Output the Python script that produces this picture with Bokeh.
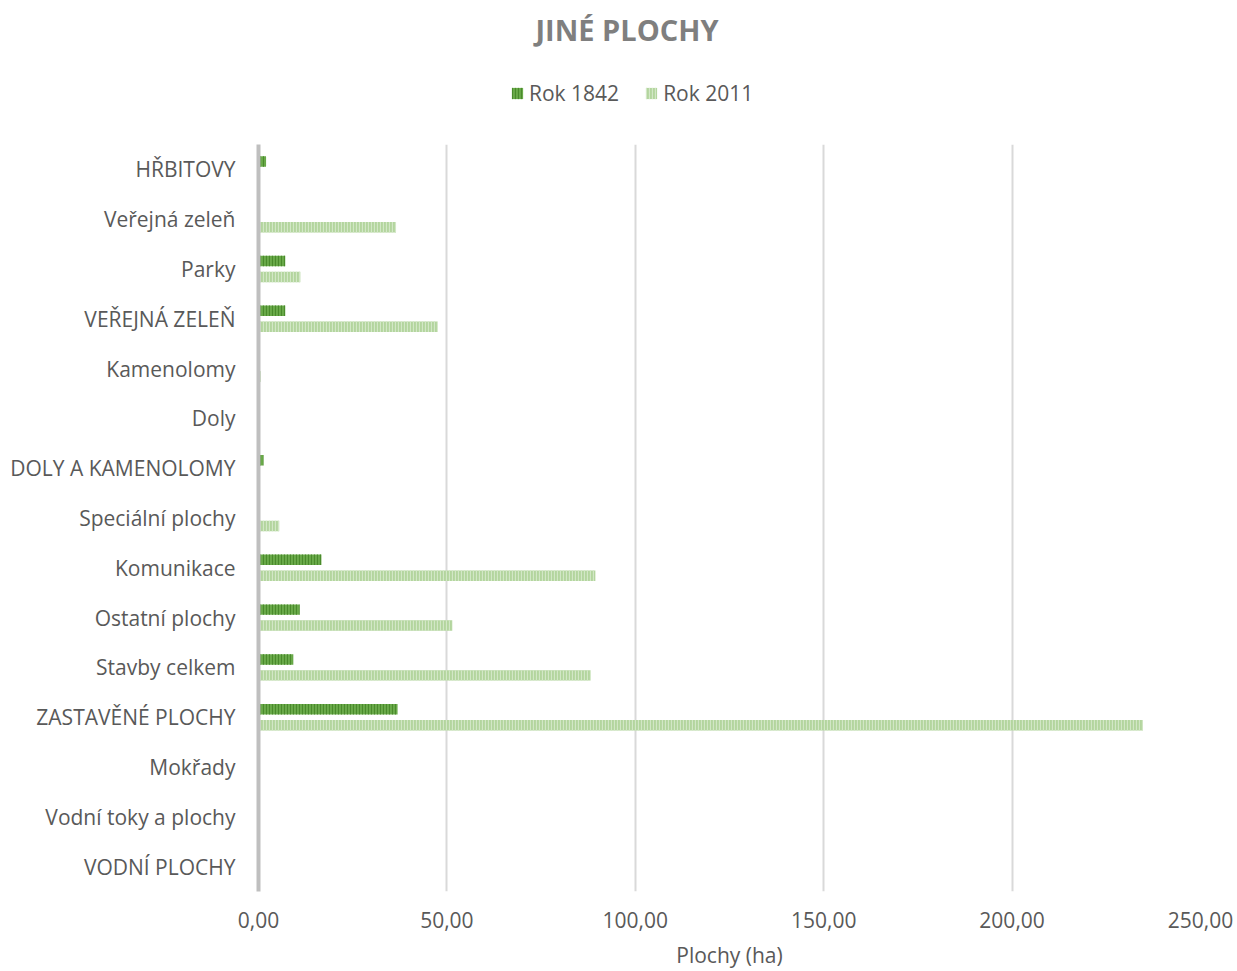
from bokeh.plotting import figure
from bokeh.models import (FactorRange, Range1d, ColumnDataSource, Legend, LegendItem,
                          FixedTicker, CustomJSTickFormatter)
from bokeh.layouts import column
from bokeh.transform import dodge
from bokeh.embed import file_html
from bokeh.resources import INLINE

categories = ["HŘBITOVY", "Veřejná zeleň", "Parky", "VEŘEJNÁ ZELEŇ", "Kamenolomy", "Doly",
              "DOLY A KAMENOLOMY", "Speciální plochy", "Komunikace", "Ostatní plochy",
              "Stavby celkem", "ZASTAVĚNÉ PLOCHY", "Mokřady", "Vodní toky a plochy", "VODNÍ PLOCHY"]
rok_1842 = [2.0, 0.0, 7.1, 7.1, 0.0, 0.0, 1.3, 0.0, 16.7, 10.9, 9.2, 36.9, 0.0, 0.0, 0.0]
rok_2011 = [0.0, 36.5, 11.1, 47.5, 0.6, 0.4, 0.0, 5.5, 89.4, 51.4, 88.1, 234.7, 0.0, 0.0, 0.0]
series_names = ["Rok 1842", "Rok 2011"]
x_ticks = [0, 50, 100, 150, 200, 250]

FONT = "Open Sans"
TXT = "#595959"
S1 = dict(fill_color="#6aaa4a", line_color=None, hatch_pattern="|", hatch_color="#4a8a2c",
          hatch_scale=3, hatch_weight=1.2)
S2 = dict(fill_color="#b3d59e", line_color=None, hatch_pattern="|", hatch_color="#d2e7c6",
          hatch_scale=3, hatch_weight=1.2)

# ---------- header (title + legend) ----------
head = figure(width=1237, height=144, output_backend="svg", toolbar_location=None,
              x_range=Range1d(0, 1), y_range=Range1d(0, 1),
              min_border_left=258, min_border_right=37, min_border_top=48, min_border_bottom=0)
head.axis.visible = False
head.grid.visible = False
head.outline_line_color = None
head.title.text = "JINÉ PLOCHY"
head.title.text_font = FONT
head.title.text_font_size = "29px"
head.title.text_font_style = "bold"
head.title.text_color = "#7f7f7f"
head.title.align = "left"
head.title.offset = 277
head.title.standoff = 0

# off-screen placeholder bars, only used to draw the legend swatches
dummy = ColumnDataSource(dict(y=[-10], r=[1]))
d1 = head.hbar(y="y", right="r", left=0, height=0.1, source=dummy, **S1)
d2 = head.hbar(y="y", right="r", left=0, height=0.1, source=dummy, **S2)
legend = Legend(items=[LegendItem(label=series_names[0], renderers=[d1]),
                       LegendItem(label=series_names[1], renderers=[d2])],
                orientation="horizontal", location=(252, 37),
                label_text_font=FONT, label_text_font_size="21px", label_text_color=TXT,
                glyph_width=14, glyph_height=14, label_standoff=5, spacing=25,
                padding=0, margin=0, border_line_color=None, background_fill_alpha=0)
head.add_layout(legend, "center")

# ---------- main chart ----------
src = ColumnDataSource(dict(cat=categories, a=rok_1842, b=rok_2011))

p = figure(width=1237, height=827, output_backend="svg", toolbar_location=None,
           y_range=FactorRange(*categories[::-1], range_padding=0),
           x_range=Range1d(0, 250),
           min_border_left=258, min_border_right=37, min_border_top=0, min_border_bottom=78)

p.hbar(y=dodge("cat", 0.16, range=p.y_range), right="a", left=0, height=0.21, source=src, **S1)
p.hbar(y=dodge("cat", -0.16, range=p.y_range), right="b", left=0, height=0.21, source=src, **S2)

p.xaxis.ticker = FixedTicker(ticks=x_ticks)
p.xaxis.formatter = CustomJSTickFormatter(code="return tick.toFixed(2).replace('.', ',');")
p.xaxis.axis_label = "Plochy (ha)"
p.xaxis.axis_label_text_font = FONT
p.xaxis.axis_label_text_font_size = "21px"
p.xaxis.axis_label_text_font_style = "normal"
p.xaxis.axis_label_text_color = TXT
p.xaxis.axis_label_standoff = 10
p.xaxis.major_label_text_font = FONT
p.xaxis.major_label_text_font_size = "21px"
p.xaxis.major_label_text_color = TXT
p.xaxis.major_label_standoff = 20
p.xaxis.axis_line_color = None
p.xaxis.major_tick_line_color = None
p.xaxis.minor_tick_line_color = None
p.xaxis.major_tick_out = 0
p.xaxis.major_tick_in = 0

p.yaxis.major_label_text_font = FONT
p.yaxis.major_label_text_font_size = "21px"
p.yaxis.major_label_text_color = TXT
p.yaxis.major_label_standoff = 23
p.yaxis.axis_line_color = "#bfbfbf"
p.yaxis.axis_line_width = 4
p.yaxis.major_tick_line_color = None
p.yaxis.minor_tick_line_color = None
p.yaxis.major_tick_out = 0
p.yaxis.major_tick_in = 0

p.ygrid.grid_line_color = None
p.xgrid.grid_line_color = "#d9d9d9"
p.xgrid.grid_line_width = 2
p.outline_line_color = None

layout = column(head, p, spacing=0)
open("out.html", "w").write(file_html(layout, INLINE))
